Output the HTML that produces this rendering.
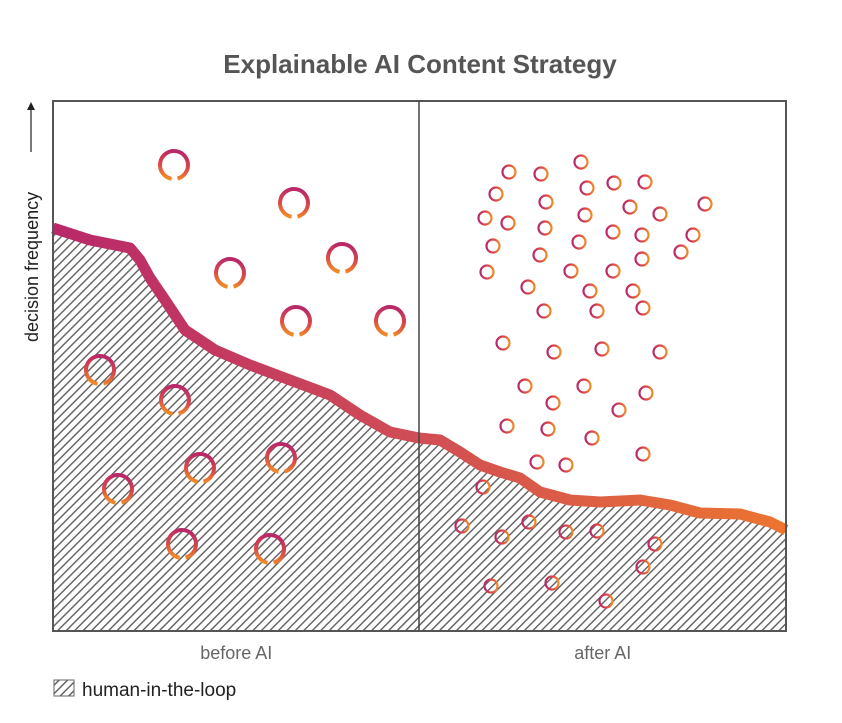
<!DOCTYPE html>
<html><head><meta charset="utf-8"><style>
body{margin:0;background:#fff;}
svg text{font-family:"Liberation Sans","DejaVu Sans",sans-serif;}
</style></head><body>
<svg id="chart" width="842" height="718" viewBox="0 0 842 718">
<defs>
<pattern id="hatch" patternUnits="userSpaceOnUse" width="6" height="6" patternTransform="rotate(45)">
<rect width="6" height="6" fill="#fff"/>
<line x1="0" y1="0" x2="0" y2="6" stroke="#5e5e5e" stroke-width="2.8"/>
</pattern>
<linearGradient id="bandGrad" gradientUnits="userSpaceOnUse" x1="53" y1="0" x2="786" y2="0">
<stop offset="0" stop-color="#b8286a"/><stop offset="0.5" stop-color="#d04e55"/><stop offset="1" stop-color="#ec7430"/>
</linearGradient>
<linearGradient id="ringGrad" x1="0" y1="0" x2="1" y2="0">
<stop offset="0" stop-color="#b8286a"/><stop offset="0.55" stop-color="#dc4848"/><stop offset="1" stop-color="#f08a28"/>
</linearGradient>
</defs>
<text x="420" y="73" text-anchor="middle" font-size="26" font-weight="bold" fill="#555">Explainable AI Content Strategy</text>
<g>
<text transform="translate(38,342) rotate(-90)" font-size="18" fill="#222">decision frequency</text>
<line x1="31" y1="152" x2="31" y2="108" stroke="#222" stroke-width="1.2"/>
<path d="M27,110 L31,102 L35,110 Z" fill="#222"/>
</g>
<g id="area"></g>
<g id="rings"></g>
<rect x="53" y="101" width="733" height="530" fill="none" stroke="#555" stroke-width="2"/>
<line x1="419" y1="101" x2="419" y2="631" stroke="#444" stroke-width="1.5"/>
<g id="cats"></g>
<g>
<rect x="54" y="680" width="20" height="16" fill="url(#hatch)" stroke="#666" stroke-width="1"/>
<text x="82" y="696" font-size="19" fill="#222">human-in-the-loop</text>
</g>
</svg>
<script>
const categories=["before AI","after AI"];
const curveX=[0,37,77,87,97,112,132,162,197,237,277,307,337,366,387,407,427,447,467,487,517,547,587,617,647,687,717,733];
const curveY=[403,391,383,371,353,331,301,281,266,251,236,216,199,193,191,179,166,159,153,139,131,129,131,126,118,117,109,101];
const bigRingX=[121,241,177,289,243,337,47,122,147,228,65,129,217];
const bigRingY=[466,428,358,373,310,310,261,231,163,173,142,87,82];
const smallRingX=[456,488,528,443,493,534,561,592,652,432,455,492,532,577,607,440,487,526,560,589,640,434,518,560,589,628,475,537,580,491,544,590,450,501,549,607,472,531,593,500,566,454,495,539,590,484,513,430,409,449,476,513,544,602,590,438,499,553];
const smallRingY=[459,457,469,437,429,443,448,449,427,413,408,403,416,424,417,385,376,389,399,396,396,359,360,360,372,379,344,340,340,320,320,323,288,279,282,279,245,245,238,228,221,205,202,193,177,169,166,144,105,94,109,99,100,87,64,45,48,30];
const X0=53,Y0=631;
const xScale=v=>X0+v;
const yScale=v=>Y0-v;
const NS='http://www.w3.org/2000/svg';
let d='M'+xScale(curveX[0])+','+yScale(curveY[0]);
for(let i=1;i<curveX.length;i++) d+=' L'+xScale(curveX[i])+','+yScale(curveY[i]);
const area=document.createElementNS(NS,'path');
area.setAttribute('d',d+' L'+xScale(curveX[curveX.length-1])+','+Y0+' L'+X0+','+Y0+' Z');
area.setAttribute('fill','url(#hatch)');


document.getElementById('area').appendChild(area);
const band=document.createElementNS(NS,'path');
band.setAttribute('d',d);
band.setAttribute('fill','none');
band.setAttribute('stroke','url(#bandGrad)');
band.setAttribute('stroke-width','11');
band.setAttribute('stroke-linejoin','round');


document.getElementById('area').appendChild(band);
const rg=document.getElementById('rings');
function ring(cx,cy,r,w,gap,name){
  const c=document.createElementNS(NS,'circle');
  c.setAttribute('cx',cx);c.setAttribute('cy',cy);c.setAttribute('r',r);
  c.setAttribute('fill','none');c.setAttribute('stroke','url(#ringGrad)');c.setAttribute('stroke-width',w);
  if(gap){const L=2*Math.PI*r;c.setAttribute('stroke-dasharray',(L*0.93)+' '+(L*0.07));c.setAttribute('transform','rotate(100 '+cx+' '+cy+')');}
  
  
  rg.appendChild(c);
}
bigRingX.forEach((v,i)=>ring(xScale(v),yScale(bigRingY[i]),14,4,true,'decision-ring-before'));
smallRingX.forEach((v,i)=>ring(xScale(v),yScale(smallRingY[i]),6.5,2.2,false,'decision-ring-after'));
const cg=document.getElementById('cats');
categories.forEach((c,i)=>{
  const t=document.createElementNS(NS,'text');
  t.setAttribute('x',X0+733*(i+0.5)/categories.length);
  t.setAttribute('y',659);
  t.setAttribute('text-anchor','middle');
  t.setAttribute('font-size','18');
  t.setAttribute('fill','#666');
  t.textContent=c;
  
  
  cg.appendChild(t);
});
</script>
</body></html>
